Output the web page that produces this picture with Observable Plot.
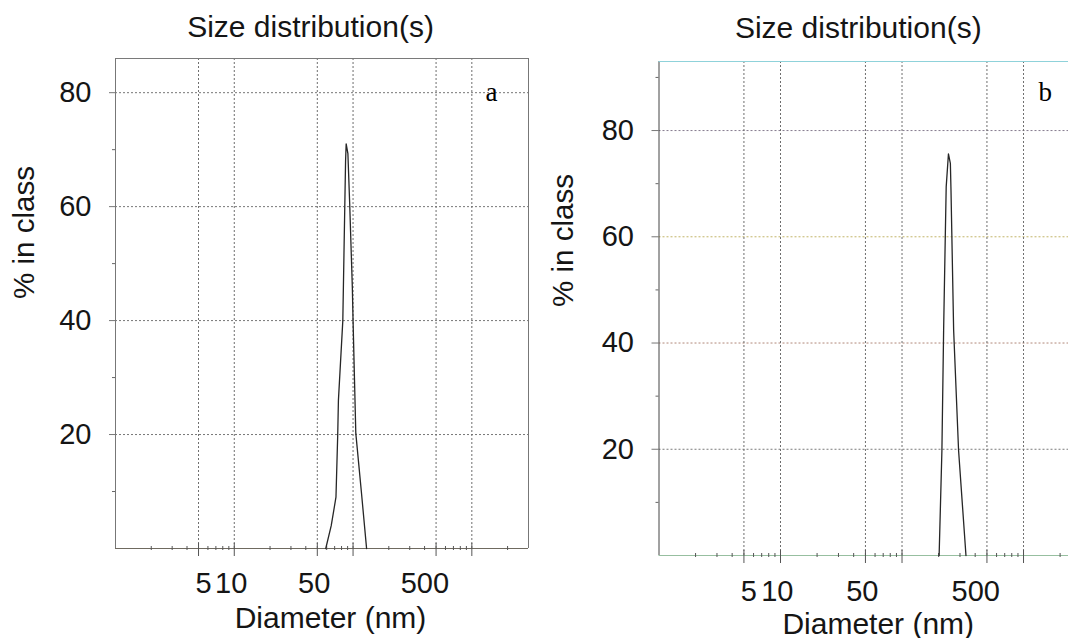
<!DOCTYPE html>
<html>
<head>
<meta charset="utf-8">
<script src="https://cdn.jsdelivr.net/npm/d3@7"></script>
<script src="https://cdn.jsdelivr.net/npm/@observablehq/plot@0.6"></script>
<style>
  html, body { margin: 0; padding: 0; background: #fff; overflow: hidden; }
  #wrap { position: relative; width: 1068px; height: 638px; overflow: hidden; background: #fff; }
  #panelA, #panelB { position: absolute; top: 0; }
  #panelA { left: 0; width: 540px; }
  #panelB { left: 540px; width: 551px; }
  svg { display: block; }
</style>
</head>
<body>
<div id="wrap"><div id="panelA"></div><div id="panelB"></div></div>
<script>
const SANS = "'Liberation Sans', Arial, Helvetica, sans-serif";
const SERIF = "'Liberation Serif', 'Times New Roman', Times, serif";

// Text
const panelTitle = "Size distribution(s)";
const yLabel = "% in class";
const xLabel = "Diameter (nm)";

// Log diameter axis (nm)
const diameterDomain = [1, 3000];
const gridDiameters = [5, 10, 50, 100, 500, 1000];
const labelDiameters = [5, 10, 50, 500];
const minorDiameters = [2, 3, 4, 6, 7, 8, 9, 20, 30, 40, 60, 70, 80, 90, 200, 300, 400, 600, 700, 800, 900, 2000];

// Percent axis
const percentTicks = [20, 40, 60, 80];
const percentMinor = [10, 30, 50, 70, 90];

// Sample a: intensity distribution
const diameterA = [58.9, 65.5, 71.8, 74.3, 75.3, 82.0, 84.8, 86.5, 87.5, 90.5, 93.7, 98.6, 100, 105.5, 117.8, 130];
const percentA  = [0,    4,    9,    20,   26,   40,   57.6, 68,   71,   69.3, 60.5, 45.9, 40,  20.2,  9.7,   0];

// Sample b: intensity distribution
const diameterB = [202, 213,  220,  227, 231,  241,  250,  253,  266,  292,  336];
const percentB  = [0,   19.8, 42.4, 60,  69.4, 75.6, 73.8, 68.7, 42.4, 19.8, 0];

function sizePanel(cfg) {
  const {diameters, percents, yMax, width, height, marginLeft, marginRight, marginTop, marginBottom} = cfg;
  const innerW = width - marginLeft - marginRight;
  const innerH = height - marginTop - marginBottom;
  const points = diameters.map((d, i) => ({diameter: d, percent: percents[i]}));

  const gridMarks = percentTicks.map(v =>
    Plot.ruleY([v], {stroke: cfg.gridTint[v] || "#777", strokeDasharray: "2,2", strokeWidth: 1})
  );

  return Plot.plot({
    width, height, marginLeft, marginRight, marginTop, marginBottom,
    style: {fontFamily: SANS, fontSize: "29px", color: "#151515", background: "#fff", maxWidth: "none", overflow: "visible"},
    x: {type: "log", domain: diameterDomain, axis: null},
    y: {domain: [0, yMax], axis: null},
    marks: [
      // dotted grid
      ...gridMarks,
      Plot.ruleX(gridDiameters, {stroke: "#6e6e6e", strokeDasharray: "2,2", strokeWidth: 1}),
      // frame
      Plot.ruleX([diameterDomain[0]], {stroke: cfg.leftStroke}),
      Plot.ruleY([yMax], {stroke: cfg.topStroke, strokeWidth: 1.2}),
      ...(cfg.rightStroke ? [Plot.ruleX([diameterDomain[1]], {stroke: cfg.rightStroke})] : []),
      Plot.ruleY([0], {stroke: cfg.bottomStroke, strokeWidth: 1.2}),
      // ticks crossing the diameter axis
      Plot.ruleX(minorDiameters, {stroke: "#555", insetTop: innerH - 4, dy: 2}),
      Plot.ruleX(gridDiameters, {stroke: "#555", insetTop: innerH - 13, dy: 8}),
      // minor percent ticks
      Plot.ruleY(percentMinor.filter(v => v < yMax), {stroke: "#666", insetRight: innerW - 3, dx: -3}),
      // percent axis
      Plot.axisY(percentTicks, {tickSize: cfg.yTickSize, tickPadding: cfg.yTickPadding, fontSize: 29, stroke: "#777", label: null}),
      // diameter tick labels, right-aligned just past their grid lines
      Plot.text(labelDiameters, {x: d => d, text: d => String(d), frameAnchor: "bottom", textAnchor: "end", lineAnchor: "bottom", dx: 13, dy: cfg.xTickBaseline, fontSize: 29, fill: "#151515"}),
      // distribution curve
      Plot.line(points, {x: "diameter", y: "percent", stroke: "#262626", strokeWidth: 1.3}),
      // titles and labels
      Plot.text([panelTitle], {text: d => d, frameAnchor: "top", textAnchor: "middle", lineAnchor: "bottom", dx: cfg.title[0], dy: cfg.title[1], fontSize: 30}),
      Plot.text([yLabel], {text: d => d, frameAnchor: "left", textAnchor: "middle", lineAnchor: "middle", rotate: -90, dx: cfg.yLab[0], dy: cfg.yLab[1], fontSize: 29.5}),
      Plot.text([xLabel], {text: d => d, frameAnchor: "bottom", textAnchor: "middle", lineAnchor: "bottom", dx: cfg.xLab[0], dy: cfg.xLab[1], fontSize: 30}),
      Plot.text([cfg.letter], {text: d => d, frameAnchor: "top-left", textAnchor: "start", lineAnchor: "bottom", dx: cfg.letterPos[0], dy: cfg.letterPos[1], fontSize: 27, fontFamily: SERIF, fill: "#000"})
    ]
  });
}

document.getElementById("panelA").append(sizePanel({
  diameters: diameterA, percents: percentA, yMax: 86, letter: "a",
  width: 540, height: 638, marginLeft: 115, marginRight: 12, marginTop: 58, marginBottom: 90,
  gridTint: {},
  leftStroke: "#777", topStroke: "#7a7a7a", rightStroke: "#777", bottomStroke: "#6f6a60",
  yTickSize: 6, yTickPadding: 18, xTickBaseline: 44,
  title: [-11.5, -22], yLab: [-91, -71], xLab: [8.5, 79], letterPos: [370, 42]
}));

document.getElementById("panelB").append(sizePanel({
  diameters: diameterB, percents: percentB, yMax: 93, letter: "b",
  width: 551, height: 638, marginLeft: 118.5, marginRight: 10, marginTop: 61, marginBottom: 83,
  gridTint: {80: "#857a8e", 60: "#c2b468", 40: "#b08878", 20: "#7a7a7a"},
  leftStroke: "#444", topStroke: "#8fd2da", rightStroke: null, bottomStroke: "#97bfa0",
  yTickSize: 7, yTickPadding: 18, xTickBaseline: 45,
  title: [-12, -24], yLab: [-95, -68], xLab: [8, 78], letterPos: [379.5, 39]
}));
</script>
</body>
</html>
